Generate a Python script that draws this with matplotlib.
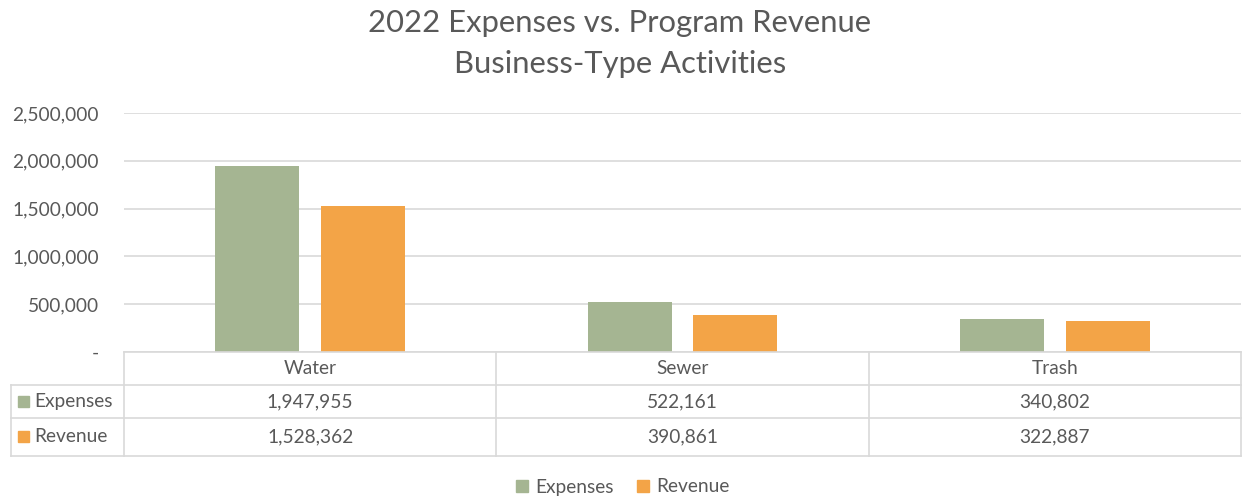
import matplotlib.pyplot as plt
from matplotlib.lines import Line2D
from matplotlib.patches import Rectangle
from matplotlib.ticker import FuncFormatter
import numpy as np

# data
categories = ['Water', 'Sewer', 'Trash']
expenses = [1947955, 522161, 340802]
revenue = [1528362, 390861, 322887]
series_names = ['Expenses', 'Revenue']

green = '#A5B592'
orange = '#F3A447'
txt = '#595959'
grid = '#D9D9D9'
fs = 13.8

plt.rcParams['font.family'] = ['Lato', 'DejaVu Sans']

W, H = 1243, 499
fig = plt.figure(figsize=(W / 100, H / 100), dpi=100)


def fx(x):
    return x / W


def fy(y):
    return 1 - y / H


# plot area in pixel coords
L, R, T, B = 124, 1241, 113, 352
ax = fig.add_axes([fx(L), fy(B), fx(R - L), (B - T) / H])

x = np.arange(len(categories))
bw = 0.226
ax.bar(x - 0.142, expenses, bw, color=green)
ax.bar(x + 0.142, revenue, bw, color=orange)

ax.set_xlim(-0.5, len(categories) - 0.5)
ax.set_ylim(0, 2500000)
ax.set_yticks(np.arange(0, 2500001, 500000))
ax.yaxis.set_major_formatter(FuncFormatter(lambda v, p: '-' if v == 0 else f'{int(v):,}'))
ax.tick_params(axis='y', length=0, pad=18, labelsize=fs, labelcolor=txt)
ax.set_xticks([])
ax.grid(axis='y', color=grid, linewidth=1.2)
ax.set_axisbelow(True)
for s in ['top', 'right', 'left']:
    ax.spines[s].set_visible(False)
ax.spines['bottom'].set_color(grid)
ax.spines['bottom'].set_linewidth(1.2)

# title
fig.text(fx(620), fy(23), '2022 Expenses vs. Program Revenue', ha='center', va='center',
         fontsize=22.3, color=txt)
fig.text(fx(620), fy(64), 'Business-Type Activities', ha='center', va='center',
         fontsize=22.3, color=txt)

# data table below the chart
rows_y = [352, 385, 418, 456]
left_x = 11


def hline(x0, x1, y):
    fig.add_artist(Line2D([fx(x0), fx(x1)], [fy(y), fy(y)], color=grid, lw=1.2))


def vline(xp, y0, y1):
    fig.add_artist(Line2D([fx(xp), fx(xp)], [fy(y0), fy(y1)], color=grid, lw=1.2))


for y in rows_y[1:]:
    hline(left_x, R, y)
vline(left_x, rows_y[1], rows_y[3])
# category borders from axis data coords
to_px = lambda xd: ax.transData.transform((xd, 0))[0] / fig.dpi * 100
fig.canvas.draw()
for b in np.arange(-0.5, len(categories), 1.0):
    vline(to_px(b), rows_y[0], rows_y[3])

for i, c in enumerate(categories):
    cx = to_px(i)
    fig.text(fx(cx), fy((rows_y[0] + rows_y[1]) / 2), c, ha='center', va='center',
             fontsize=fs, color=txt)
    fig.text(fx(cx), fy((rows_y[1] + rows_y[2]) / 2), f'{expenses[i]:,}', ha='center',
             va='center', fontsize=fs, color=txt)
    fig.text(fx(cx), fy((rows_y[2] + rows_y[3]) / 2), f'{revenue[i]:,}', ha='center',
             va='center', fontsize=fs, color=txt)

for k, (name, col) in enumerate(zip(series_names, [green, orange])):
    yc = (rows_y[k + 1] + rows_y[k + 2]) / 2
    fig.add_artist(Rectangle((fx(18), fy(yc + 5)), fx(11), 11 / H, color=col))
    fig.text(fx(34), fy(yc), name, ha='left', va='center', fontsize=fs, color=txt)

# legend
handles = [Rectangle((0, 0), 1, 1, color=green), Rectangle((0, 0), 1, 1, color=orange)]
fig.legend(handles, series_names, loc='center', bbox_to_anchor=(fx(623), fy(487)), ncol=2,
           frameon=False, fontsize=fs, labelcolor=txt, handlelength=0.6, handleheight=0.6,
           handletextpad=0.4, columnspacing=1.2)

fig.savefig('out.png', dpi=100)
